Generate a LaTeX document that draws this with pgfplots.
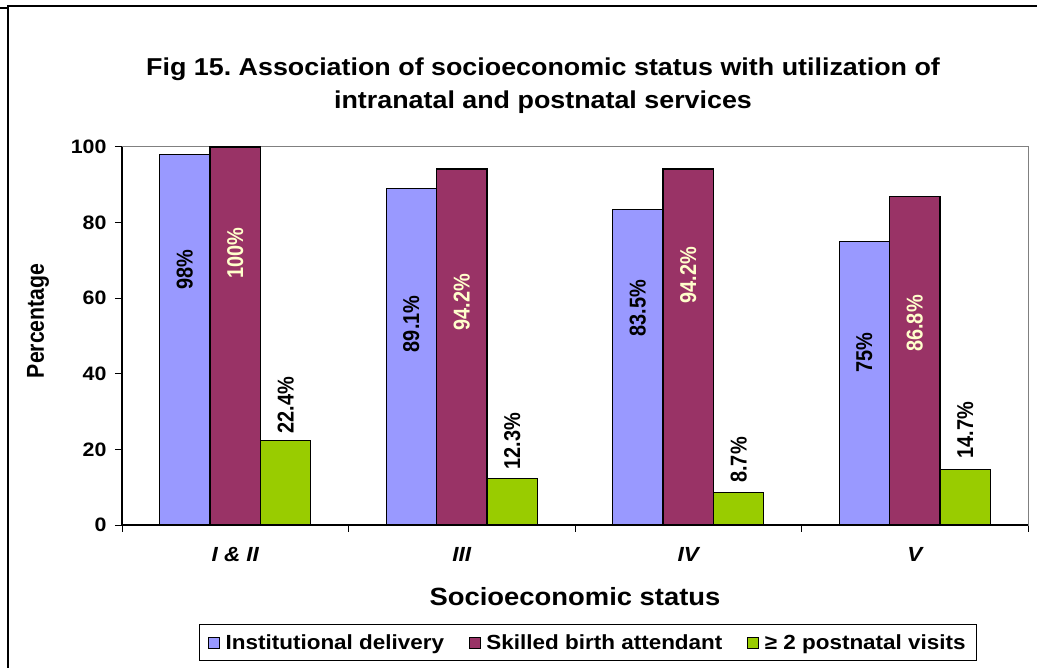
\documentclass[border=0pt]{standalone}
\usepackage{fontspec}
\setmainfont{Liberation Sans}
\newfontfamily\hfont{Liberation Sans}[FakeStretch=1.1]
\newfontfamily\vfont{Liberation Sans}[FakeStretch=0.87]
\usepackage{pgfplots}
\usepackage{pgfplotstable}
\pgfplotsset{compat=1.18}
\definecolor{cblue}{HTML}{9999FF}
\definecolor{cred}{HTML}{993366}
\definecolor{cgreen}{HTML}{99CC00}
\definecolor{cyel}{HTML}{FFFFCC}

% bar values (x = category index + bar offset)
\pgfplotstableread{
x y
-0.2225 98
0.7775 89.1
1.7775 83.5
2.7775 75
}\tblue
\pgfplotstableread{
x y
0 100
1 94.2
2 94.2
3 86.8
}\tred
\pgfplotstableread{
x y
0.2225 22.4
1.2225 12.3
2.2225 8.7
3.2225 14.7
}\tgreen
% label positions (centre of rotated label) and printed value
\pgfplotstableread{
x y v
-0.2225 67.5 98
0.7775 53.2 89.1
1.7775 57.3 83.5
2.7775 45.6 75
}\tbluelab
\pgfplotstableread{
x y v
0 72.0 100
1 58.9 94.2
2 66.1 94.2
3 53.3 86.8
}\tredlab
\pgfplotstableread{
x y v
0.2225 31.7 22.4
1.2225 22.2 12.3
2.2225 17.2 8.7
3.2225 25.1 14.7
}\tgreenlab

\begin{document}
\frenchspacing
\begin{tikzpicture}
\useasboundingbox (0,0) rectangle (1037bp,668bp);
\fill[white] (0,0) rectangle (1037bp,668bp);
% outer frame
\draw[black, line width=2bp] (7.5bp,0) -- (7.5bp,661.5bp) -- (1037bp,661.5bp);
\draw[black, line width=1.5bp] (0,660bp) -- (7.5bp,660bp);
\begin{axis}[
  at={(122bp,143bp)}, anchor=south west,
  scale only axis, width=906bp, height=378bp,
  xmin=-0.5, xmax=3.5, ymin=0, ymax=100,
  /pgf/number format/assume math mode=true,
  axis line style={draw=gray, line width=1bp},
  tick align=outside, major tick length=7bp,
  tick style={black, line width=1bp},
  xtick pos=bottom, ytick pos=left,
  ytick={0,20,40,60,80,100},
  xtick={-0.5,0.5,1.5,2.5,3.5}, xticklabels={},
  extra x ticks={0,1,2,3},
  extra x tick labels={I \& II, III, IV, V},
  extra x tick style={major tick length=0pt,
     tick label style={font=\hfont\bfseries\itshape\fontsize{20.5}{22}\selectfont, yshift=-19bp}},
  yticklabel style={font=\hfont\bfseries\fontsize{19.5}{20}\selectfont, xshift=-5bp},
  title={Fig 15. Association of socioeconomic status with utilization of\\intranatal and postnatal services},
  title style={align=center, font=\hfont\bfseries\fontsize{24.5}{33}\selectfont,
     at={(axis description cs:0.4647,1.1468)}, anchor=center},
  xlabel={Socioeconomic status},
  xlabel style={font=\hfont\bfseries\fontsize{25}{27}\selectfont,
     at={(axis description cs:0.5,-0.1905)}, anchor=center},
  ylabel={Percentage},
  ylabel style={font=\vfont\bfseries\fontsize{24.5}{26}\selectfont,
     at={(axis description cs:-0.0927,0.54)}, anchor=center},
  legend columns=3,
  legend image code/.code={\draw[#1, line width=0.8bp] (0bp,-5.5bp) rectangle (11bp,5.5bp);
     \path[draw=none, fill=none] (11bp,-0.1bp) rectangle (15bp,0.1bp);},
  legend style={at={(axis description cs:0.5143,-0.3108)}, anchor=center,
     draw=black, line width=1bp,
     font=\hfont\bfseries\fontsize{20.5}{22}\selectfont,
     inner xsep=9bp, inner ysep=8bp,
     /tikz/every even column/.append style={column sep=23bp},
     cells={anchor=west}},
  after end axis/.code={
     \draw[black, line width=1.3bp] (rel axis cs:0,1) -- (rel axis cs:0,0) -- (rel axis cs:1,0);
  },
]
\addplot[ybar, bar width=0.2225, bar shift=0pt, fill=cblue, draw=black, line width=1.2bp] table[x=x,y=y] {\tblue};
\addplot[ybar, bar width=0.2225, bar shift=0pt, fill=cred, draw=black, line width=1.2bp] table[x=x,y=y] {\tred};
\addplot[ybar, bar width=0.2225, bar shift=0pt, fill=cgreen, draw=black, line width=1.2bp] table[x=x,y=y] {\tgreen};
\legend{Institutional delivery, Skilled birth attendant, {≥ 2 postnatal visits}}

\addplot[forget plot, draw=none, mark=none, point meta=explicit,
   nodes near coords={\pgfmathprintnumber{\pgfplotspointmeta}\%},
   nodes near coords style={rotate=90, anchor=center, inner sep=0pt, text=black,
      font=\vfont\bfseries\fontsize{23}{25}\selectfont}]
   table[x=x,y=y,meta=v] {\tbluelab};
\addplot[forget plot, draw=none, mark=none, point meta=explicit,
   nodes near coords={\pgfmathprintnumber{\pgfplotspointmeta}\%},
   nodes near coords style={rotate=90, anchor=center, inner sep=0pt, text=cyel,
      font=\vfont\bfseries\fontsize{23}{25}\selectfont}]
   table[x=x,y=y,meta=v] {\tredlab};
\addplot[forget plot, draw=none, mark=none, point meta=explicit,
   nodes near coords={\pgfmathprintnumber{\pgfplotspointmeta}\%},
   nodes near coords style={rotate=90, anchor=center, inner sep=0pt, text=black,
      font=\vfont\bfseries\fontsize{23}{25}\selectfont}]
   table[x=x,y=y,meta=v] {\tgreenlab};
\end{axis}
\end{tikzpicture}
\end{document}
